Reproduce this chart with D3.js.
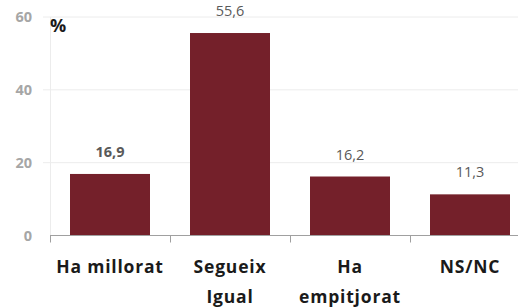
<!DOCTYPE html>
<html>
<head>
<meta charset="utf-8">
<script src="https://cdn.jsdelivr.net/npm/d3@7"></script>
<style>
  body { margin: 0; background: #fff; }
  svg { display: block; font-family: "Open Sans", "Noto Sans", sans-serif; }
</style>
</head>
<body>
<svg id="chart" width="518" height="307"></svg>
<script>
// Data
const categories = [['Ha millorat'], ['Segueix', 'Igual'], ['Ha', 'empitjorat'], ['NS/NC']];
const values = [16.9, 55.6, 16.2, 11.3];
const labels = ['16,9', '55,6', '16,2', '11,3'];
const yTicks = [0, 20, 40, 60];

const svg = d3.select('#chart');
const margin = { top: 17, left: 50, bottom: 72 };
const plotW = 480;

const x = d3.scaleBand()
    .domain(d3.range(values.length))
    .range([margin.left, margin.left + plotW])
    .paddingInner(1 / 3)
    .paddingOuter(1 / 6);

const y = d3.scaleLinear()
    .domain([0, 60])
    .range([235.5, margin.top]);

// Gridlines
svg.append('g')
    .selectAll('line')
    .data(yTicks.slice(1))
    .enter()
    .append('line')
    .attr('x1', 43)
    .attr('x2', 518)
    .attr('y1', d => y(d))
    .attr('y2', d => y(d))
    .attr('stroke', '#ececec')
    .attr('stroke-width', 1);

// vertical axis line (faint)
svg.append('line')
    .attr('x1', 50.5).attr('x2', 50.5)
    .attr('y1', y(60)).attr('y2', y(0))
    .attr('stroke', '#ececec');

// Y tick labels
svg.append('g')
    .selectAll('text')
    .data(yTicks)
    .enter()
    .append('text')
    .attr('x', 32)
    .attr('y', d => y(d) + 5)
    .attr('text-anchor', 'end')
    .attr('fill', '#a6a6a6')
    .attr('font-weight', 'bold')
    .attr('font-size', 14.5)
    .text(d => d);

// Bars
svg.selectAll('.bar')
    .data(values)
    .enter()
    .append('rect')
    .attr('class', 'bar')
    .attr('x', (d, i) => x(i))
    .attr('y', d => y(d))
    .attr('width', x.bandwidth())
    .attr('height', d => y(0) - y(d))
    .attr('fill', '#74202a');

// Value labels
svg.selectAll('.val')
    .data(values)
    .enter()
    .append('text')
    .attr('class', 'val')
    .attr('x', (d, i) => x(i) + x.bandwidth() / 2)
    .attr('y', d => y(d) - 17)
    .attr('text-anchor', 'middle')
    .attr('fill', '#595959')
    .attr('font-size', 14.5)
    .attr('font-weight', (d, i) => i === 0 ? 'bold' : 'normal')
    .text((d, i) => labels[i]);

// X axis
const xAxis = svg.append('g')
    .attr('transform', `translate(0,${y(0)})`);
xAxis.append('line')
    .attr('x1', margin.left).attr('x2', margin.left + plotW)
    .attr('stroke', '#a0a0a0');
const step = x.step();
xAxis.selectAll('.tick')
    .data(d3.range(values.length + 1))
    .enter()
    .append('line')
    .attr('x1', i => margin.left + i * step + 0.5)
    .attr('x2', i => margin.left + i * step + 0.5)
    .attr('y1', 0).attr('y2', 7)
    .attr('stroke', '#a0a0a0');

// Category labels
svg.selectAll('.cat')
    .data(categories)
    .enter()
    .append('text')
    .attr('class', 'cat')
    .attr('x', (d, i) => x(i) + x.bandwidth() / 2)
    .attr('y', 273)
    .attr('text-anchor', 'middle')
    .attr('font-size', 17.5)
    .attr('font-weight', 'bold')
    .attr('letter-spacing', 0.8)
    .attr('fill', '#1a1a1a')
    .each(function (d) {
        d3.select(this).selectAll('tspan')
            .data(d)
            .enter()
            .append('tspan')
            .attr('x', d3.select(this).attr('x'))
            .attr('dy', (t, j) => j === 0 ? 0 : 30)
            .text(t => t);
    });

// Unit label
svg.append('text')
    .attr('x', 50)
    .attr('y', 32)
    .attr('font-size', 18)
    .attr('font-weight', 'bold')
    .attr('fill', '#1a1a1a')
    .text('%');
</script>
</body>
</html>
